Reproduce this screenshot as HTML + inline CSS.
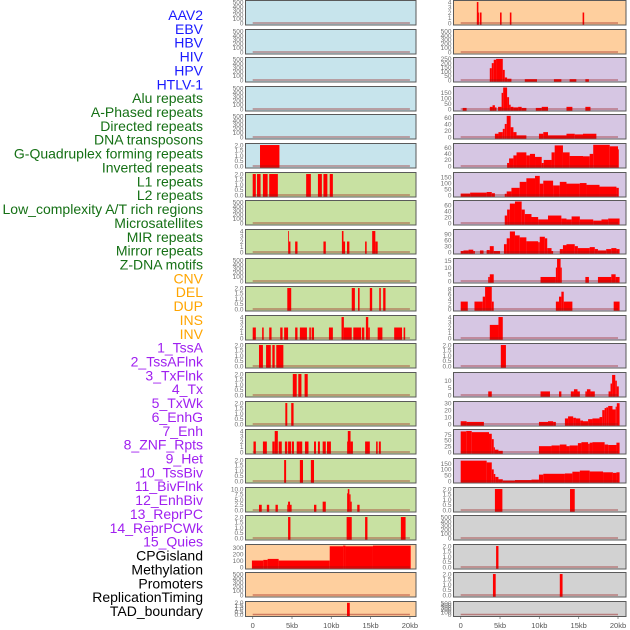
<!DOCTYPE html>
<html><head><meta charset="utf-8"><style>
html,body{margin:0;padding:0;background:#fff;width:630px;height:630px;overflow:hidden}
svg{display:block}
</style></head><body>
<svg id="chart" width="630" height="630" xmlns="http://www.w3.org/2000/svg" font-family="Liberation Sans, sans-serif"></svg>
<script>
const rowLabels = ["AAV2","EBV","HBV","HIV","HPV","HTLV-1","Alu repeats","A-Phased repeats","Directed repeats","DNA transposons","G-Quadruplex forming repeats","Inverted repeats","L1 repeats","L2 repeats","Low_complexity A/T rich regions","Microsatellites","MIR repeats","Mirror repeats","Z-DNA motifs","CNV","DEL","DUP","INS","INV","1_TssA","2_TssAFlnk","3_TxFlnk","4_Tx","5_TxWk","6_EnhG","7_Enh","8_ZNF_Rpts","9_Het","10_TssBiv","11_BivFlnk","12_EnhBiv","13_ReprPC","14_ReprPCWk","15_Quies","CPGisland","Methylation","Promoters","ReplicationTiming","TAD_boundary"];
const labelColors = [6,"#1a1aff",13,"#157015",5,"#ffa500",15,"#a020f0",5,"#000000"];
const xTickValues = [0,5,10,15,20];
const xTickLabels = ["0","5kb","10kb","15kb","20kb"];
const leftBg = ["blue","blue","blue","blue","blue","blue","green","green","green","green","green","green","green","green","green","green","green","green","green","orange","orange","orange"];
const rightBg = ["orange","orange","purple","purple","purple","purple","purple","purple","purple","purple","purple","purple","purple","purple","purple","purple","purple","gray","gray","gray","gray","gray"];
const leftScale = ["t500","t500","t500","t500","t500","t2","t2","t500","t4","t500","t2","t4","t2","t2","t2","t4","t2","t10","t2","t300","t500","t2"];
const rightScale = ["t4","t500","t250","t150","t60","t60b","t150b","t60c","t90","t15","t8","t4","t2","t10b","t30","t75","t150c","t2","t500","t2","t2","t500"];

const L5 = [[0.93,3.4,2]];
const L6 = [[0,0.4,2],[0.55,1.0,2],[1.3,1.9,2],[2.1,3.2,2],[6.8,7.4,2],[8.3,8.8,2],[9.0,9.5,2],[9.8,10.2,2]];
const L8 = [[4.5,4.6,4],[4.6,4.8,2],[5.4,5.7,2],[9.0,9.3,2],[11.35,11.55,4],[11.55,11.75,2],[12.0,12.3,2],[14.3,14.5,2],[15.2,15.6,4],[15.6,15.9,2]];
const L10 = [[4.4,4.9,2],[12.6,13.0,2],[13.4,13.6,2],[14.9,15.2,2],[16.1,16.3,2],[16.6,16.9,2]];
const L11 = [[0,0.4,2],[1.2,1.4,2],[2.1,2.4,2],[3.5,3.8,2],[4.0,4.5,2],[5.4,5.7,2],[6.0,6.9,2],[7.2,7.4,2],[7.5,7.8,2],[9.7,10.2,2],[11.3,11.6,4],[11.6,12.6,2],[12.8,13.8,2],[13.9,14.2,2],[14.4,14.7,4],[14.7,14.9,2],[15.9,16.5,2],[18.0,19.0,2],[19.2,19.4,2]];
const L12 = [[0.8,1.3,2],[1.7,2.3,2],[2.5,2.8,2],[3.0,3.9,2]];
const L13 = [[5.1,5.6,2],[5.8,6.2,2],[6.6,7.0,2]];
const L14 = [[4.15,4.4,2],[4.9,5.2,2]];
const L15 = [[0.1,0.4,2],[1.3,1.8,2],[2.5,2.8,2],[2.8,3.2,4],[3.3,3.7,2],[4.1,4.4,2],[4.5,4.9,2],[5.0,5.25,2],[5.6,5.9,2],[5.9,6.3,2],[6.65,7.1,2],[7.8,8.05,2],[8.3,8.55,2],[8.9,9.3,2],[9.45,9.95,2],[12.0,12.1,2],[12.1,12.45,4],[12.45,12.75,2],[14.3,14.9,2],[15.7,15.9,2],[16.05,16.3,2]];
const L16 = [[4.0,4.25,2],[6.0,6.4,2],[7.4,7.8,2]];
const L17 = [[0.8,1.15,2.5],[1.8,2.1,2.5],[2.9,3.2,2.5],[4.4,4.5,2.5],[4.5,4.75,4],[4.75,4.95,2.5],[7.8,8.1,2.5],[8.9,9.3,4],[12.0,12.1,8],[12.1,12.3,10],[12.3,12.45,7.5],[12.45,12.6,4],[13.3,13.6,2.5]];
const L18 = [[4.5,4.8,2],[11.95,12.6,2],[14.3,14.6,2],[18.85,19.45,2]];
const L19 = [[-0.1,1.35,100],[1.35,1.9,110],[1.9,3.3,125],[3.3,9.8,100],[9.8,11.5,320],[11.5,11.8,330],[11.8,15.3,320],[15.3,20.1,330]];
const L21 = [[12.0,12.35,2]];

const R0 = [[2.05,2.25,4],[2.25,2.35,2],[2.45,2.65,2],[5.0,5.2,2],[6.25,6.45,2],[15.5,15.7,2]];
const R2 = [[3.7,3.95,140],[3.95,4.2,200],[4.2,4.5,240],[4.5,5.35,250],[5.35,5.6,120],[5.6,5.9,30],[5.9,6.45,15],[8.15,9.7,10],[11.85,12.8,10],[13.85,14.7,10],[15.85,16.3,10]];
const R3 = [[0.25,0.75,10],[3.7,4.05,20],[4.05,4.35,35],[4.35,4.55,15],[4.75,5.2,20],[5.2,5.4,150],[5.4,5.9,200],[5.9,6.15,110],[6.15,6.35,40],[6.35,6.7,20],[6.7,7.3,15],[7.3,7.75,20],[7.75,8.35,10],[9.55,10.3,10],[10.3,11.1,20],[13.45,14.2,20],[15.85,16.5,20]];
const R4 = [[4.35,4.8,10],[4.8,5.35,15],[5.35,5.6,25],[5.6,5.85,40],[5.85,6.35,65],[6.35,6.7,30],[6.7,7.1,15],[7.1,8.35,5],[9.95,10.5,10],[10.5,11.1,15],[11.1,13.45,5],[13.45,14.5,10],[14.5,15.55,8],[15.55,17.25,10]];
const R5 = [[5.9,6.15,10],[6.15,6.7,25],[6.7,7.1,35],[7.1,8.35,45],[8.35,8.8,35],[8.8,9.45,40],[9.45,10.3,30],[10.3,10.55,10],[10.55,11.55,20],[11.55,11.95,45],[11.95,13.0,68],[13.0,13.85,45],[13.85,15.55,33],[15.55,16.4,32],[16.4,16.85,40],[16.85,18.95,70],[18.95,20.0,65],[20.0,20.1,55]];
const R6 = [[0,1.2,12],[1.2,3.3,20],[3.3,3.95,25],[3.95,4.35,15],[5.6,5.85,10],[5.85,6.45,30],[6.45,7.5,60],[7.5,8.35,110],[8.35,9.45,140],[9.45,10.05,160],[10.05,10.5,95],[10.5,11.75,120],[11.75,12.6,80],[12.6,13.45,110],[13.45,15.15,95],[15.15,16.0,100],[16.0,17.65,85],[17.65,19.8,70],[19.8,20.1,60]];
const R7 = [[5.6,5.9,25],[5.9,6.25,45],[6.25,6.9,65],[6.9,7.75,72],[7.75,8.15,45],[8.15,9.0,30],[9.0,9.85,20],[9.85,11.1,12],[11.1,12.8,25],[12.8,13.45,15],[13.45,14.1,12],[14.1,15.15,22],[15.15,16.85,12],[16.85,17.9,8],[17.9,18.75,12],[18.75,20.2,15]];
const R8 = [[0,0.35,5],[0.35,1.0,8],[1.0,1.6,12],[1.6,1.8,5],[2.45,2.9,8],[3.3,3.7,10],[3.7,4.2,30],[4.2,5.0,5],[5.5,5.85,40],[5.85,6.25,70],[6.25,6.9,105],[6.9,7.5,85],[7.5,8.35,75],[8.35,9.85,55],[9.85,10.05,50],[10.05,10.7,78],[10.7,11.0,70],[11.0,11.55,20],[11.55,11.75,5],[12.6,13.0,15],[13.0,13.45,35],[13.45,14.5,40],[14.5,14.9,30],[14.9,16.4,20],[16.4,17.05,25],[17.05,17.45,15],[17.45,18.5,8],[18.5,19.15,15],[19.15,19.8,20],[19.8,20.2,15]];
const R9 = [[3.5,3.7,3],[3.7,4.2,5],[10.15,12.1,3],[12.1,12.25,10],[12.25,12.7,17],[12.7,12.85,10],[15.85,16.3,3],[17.45,19.15,3],[19.15,19.7,5],[19.7,20.2,3]];
const R10 = [[0,0.9,3],[1.75,2.8,3],[2.8,3.1,5],[3.1,3.95,9],[3.95,4.2,3],[12.1,12.5,3],[12.5,12.8,5],[12.8,13.1,7],[13.1,14.2,3],[19.45,20.2,3]];
const R11 = [[3.7,4.8,2.5],[4.8,5.35,4]];
const R12 = [[5.1,5.75,2]];
const R13 = [[3.5,3.95,2.5],[10.15,11.35,2.5],[12.5,12.8,2.5],[14.0,14.4,2.5],[14.4,14.85,4],[14.85,15.15,2.5],[15.85,16.05,2.5],[16.05,16.5,4],[16.5,17.05,2.5],[18.8,19.05,2.5],[19.05,19.25,8],[19.25,19.65,14],[19.65,19.85,10],[19.85,20.1,6]];
const R14 = [[0,0.75,4],[0.75,2.95,3],[9.95,11.1,3],[11.1,11.75,4],[11.75,12.1,3],[13.25,13.65,8],[13.65,14.3,11],[14.3,14.65,9],[14.65,15.2,8],[15.2,15.55,5],[15.55,16.2,4],[16.2,16.75,7],[16.75,17.65,8],[17.65,18.0,10],[18.0,18.3,20],[18.3,18.5,23],[18.5,18.75,24],[18.75,19.3,26],[19.3,19.7,21],[19.7,19.85,25],[19.85,20.2,30]];
const R15 = [[0,0.7,88],[0.7,1.4,90],[1.4,3.6,85],[3.6,3.95,78],[3.95,4.2,55],[4.2,4.35,20],[4.35,4.8,10],[4.8,5.35,5],[9.95,11.55,25],[11.55,12.6,28],[12.6,13.45,32],[13.45,13.85,25],[13.85,14.9,28],[14.9,15.35,38],[15.35,16.2,42],[16.2,16.4,35],[16.4,16.75,40],[16.75,18.3,42],[18.3,18.75,32],[18.75,19.8,30],[19.8,20.2,40]];
const R16 = [[0,3.3,175],[3.3,3.95,160],[3.95,4.2,100],[4.2,4.4,60],[4.4,4.8,35],[4.8,5.35,15],[5.35,6.9,3],[6.9,9.0,8],[9.0,9.95,12],[9.95,10.5,55],[10.5,13.25,62],[13.25,14.2,65],[14.2,15.15,80],[15.15,16.4,90],[16.4,18.1,82],[18.1,19.35,75],[19.35,19.8,70],[19.8,20.2,75]];
const R17 = [[4.35,5.3,2],[13.9,14.5,2]];
const R19 = [[4.5,4.8,2]];
const R20 = [[4.1,4.45,2],[12.6,12.95,2]];

const leftData = [[],[],[],[],[],L5,L6,[],L8,[],L10,L11,L12,L13,L14,L15,L16,L17,L18,L19,[],L21];
const rightData = [R0,[],R2,R3,R4,R5,R6,R7,R8,R9,R10,R11,R12,R13,R14,R15,R16,R17,[],R19,R20,[]];

const scales = {
  t500:{max:520,ticks:[0,100,200,300,400,500],fmt:0},
  t2:{max:2.05,ticks:[0,0.5,1,1.5,2],fmt:1},
  t4:{max:4.1,ticks:[0,1,2,3,4],fmt:0},
  t10:{max:10.3,ticks:[0,2.5,5,7.5,10],fmt:1},
  t300:{max:332,ticks:[0,100,200,300],fmt:0},
  t250:{max:255,ticks:[0,50,100,150,200,250],fmt:0},
  t150:{max:200,ticks:[0,50,100,150],fmt:0},
  t60:{max:66,ticks:[0,20,40,60],fmt:0},
  t60b:{max:71,ticks:[0,20,40,60],fmt:0},
  t150b:{max:180,ticks:[0,50,100,150],fmt:0},
  t60c:{max:72,ticks:[0,20,40,60],fmt:0},
  t90:{max:110,ticks:[0,30,60,90],fmt:0},
  t15:{max:16,ticks:[0,5,10,15],fmt:0},
  t8:{max:8.7,ticks:[0,2,4,6,8],fmt:0},
  t10b:{max:15,ticks:[0,5,10],fmt:0},
  t30:{max:31,ticks:[0,10,20,30],fmt:0},
  t75:{max:92,ticks:[0,25,50,75],fmt:0},
  t150c:{max:185,ticks:[0,50,100,150],fmt:0}
};
const bgColors = {blue:"#c7e4ec",green:"#c8e1a2",orange:"#fecf9e",purple:"#d6c6e3",gray:"#d2d2d2"};

const svg = document.getElementById('chart');
const NS = "http://www.w3.org/2000/svg";
function mk(tag, attrs, parent){
  const e = document.createElementNS(NS, tag);
  for (const k in attrs) e.setAttribute(k, attrs[k]);
  (parent||svg).appendChild(e);
  return e;
}
const rowTops = [];
for (let r=0;r<22;r++) rowTops.push(Math.round(r*28.62));
const cols = [
  {x0:245.5, x1:416, kb0:252.7, kbs:7.86, bg:leftBg, sc:leftScale, data:leftData, name:'left'},
  {x0:453.5, x1:626, kb0:460.7, kbs:7.865, bg:rightBg, sc:rightScale, data:rightData, name:'right'}
];

// row labels
let ci=0, cnt=0, idx=0;
const colorList=[];
for (let i=0;i<labelColors.length;i+=2){ for(let k=0;k<labelColors[i];k++) colorList.push(labelColors[i+1]); }
rowLabels.forEach((lab,i)=>{
  const t = mk('text',{x:203,y:15+i*13.86+5,'text-anchor':'end','font-size':'14',fill:colorList[i]});
  
  
  t.textContent = lab;
});

cols.forEach((c,cix)=>{
  for (let r=0;r<22;r++){
    const top = rowTops[r]+0.5;
    const h = (r===21)?15:24.5;
    const bottom = top+h;
    const s = scales[c.sc[r]];
    const g = mk('g',{});
    
    
    const bgr = mk('rect',{x:c.x0,y:top,width:c.x1-c.x0,height:h,fill:bgColors[c.bg[r]]},g);
    
    
    const ys = v => (bottom-2) - (v/s.max)*(h-3);
    const xs = kb => c.kb0 + kb*c.kbs;
    c.data[r].forEach(seg=>{
      const y = ys(seg[2]);
      const x = xs(seg[0]);
      const b = mk('rect',{x:x,y:Math.max(top,y),width:Math.max(0.8,xs(seg[1])-x),height:bottom-Math.max(top,y),fill:"#ff0000"},g);
      
      
    });
    const bl = mk('line',{x1:xs(0),x2:xs(20),y1:ys(0),y2:ys(0),stroke:"rgba(150,20,20,0.45)",'stroke-width':1.5},g);
    
    
    const br = mk('rect',{x:c.x0,y:top,width:c.x1-c.x0,height:h,fill:"none",stroke:"#5a5a5a",'stroke-width':1},g);
    
    
    s.ticks.forEach(tv=>{
      const tt = mk('text',{x:c.x0-2,y:ys(tv)+2.3,'text-anchor':'end','font-size':'6.5',fill:"#707070"},g);
      
      
      tt.textContent = s.fmt ? tv.toFixed(1) : String(tv);
    });
  }
  // x axis
  xTickValues.forEach((v,i)=>{
    const x = c.kb0 + v*c.kbs;
    const tk = mk('line',{x1:x,x2:x,y1:617,y2:619,stroke:"#777",'stroke-width':0.8});
    
    
    const tl = mk('text',{x:x,y:628,'text-anchor':'middle','font-size':'7.5',fill:"#555"});
    
    
    tl.textContent = xTickLabels[i];
  });
});
</script>
</body></html>
